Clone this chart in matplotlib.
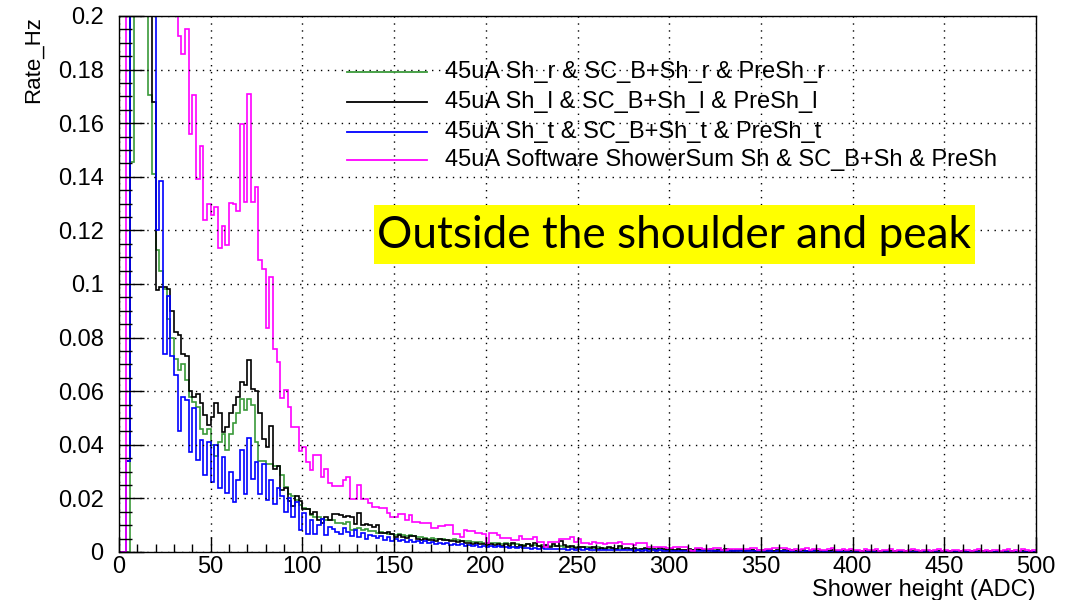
import numpy as np
import matplotlib
matplotlib.use("Agg")
import matplotlib.pyplot as plt
from matplotlib.lines import Line2D
from matplotlib.patches import Rectangle
from matplotlib.ticker import MultipleLocator

# ---------------- data (2-ADC bins from 0 to 500) ----------------
bin_edges = np.arange(0, 502, 2)

labels = [
    "45uA Sh_r & SC_B+Sh_r & PreSh_r",
    "45uA Sh_l & SC_B+Sh_l & PreSh_l",
    "45uA Sh_t & SC_B+Sh_t & PreSh_t",
    "45uA Software ShowerSum Sh & SC_B+Sh & PreSh",
]

rate_sh_r = [
    0, 0, 0, 0.1456, 0.9, 0.7, 0.5, 0.32, 0.1705, 0.141,
    0.1127, 0.105, 0.098, 0.087, 0.080, 0.072, 0.068, 0.070, 0.064, 0.058,
    0.056, 0.054, 0.046, 0.044, 0.046, 0.040, 0.036, 0.041, 0.044, 0.038,
    0.044, 0.048, 0.052, 0.057, 0.053, 0.057, 0.055, 0.041, 0.034, 0.034,
    0.033, 0.033, 0.032, 0.032, 0.0287, 0.0243, 0.0218, 0.021, 0.0194, 0.0175,
    0.0163, 0.016, 0.0138, 0.013, 0.013, 0.0125, 0.0119, 0.0119, 0.012, 0.011,
    0.011, 0.0105, 0.0112, 0.0082, 0.0085, 0.009, 0.0082, 0.0085, 0.008, 0.0078,
    0.0072, 0.0074, 0.0070, 0.0068, 0.0066, 0.0064, 0.0066, 0.0062, 0.0060, 0.0064,
    0.0058, 0.0055, 0.0056, 0.0052, 0.0050, 0.0052, 0.0048, 0.0050, 0.0047, 0.0046,
    0.0045, 0.0047, 0.0044, 0.0042, 0.0040, 0.0042, 0.0038, 0.0036, 0.0038, 0.0035,
    0.0034, 0.0033, 0.0035, 0.0032, 0.0030, 0.0032, 0.0029, 0.0028, 0.0030, 0.0027,
    0.0026, 0.0028, 0.0025, 0.0026, 0.0024, 0.0025, 0.0023, 0.0022, 0.0024, 0.0021,
    0.0022, 0.0020, 0.0021, 0.0019, 0.0020, 0.0018, 0.0019, 0.0017, 0.0018, 0.0016,
    0.0017, 0.0015, 0.0016, 0.0014, 0.0015, 0.0013, 0.0014, 0.0012, 0.0013, 0.0012,
    0.0011, 0.0012, 0.0010, 0.0011, 0.0010, 0.0009, 0.0010, 0.0009, 0.0008, 0.0009,
    0.0008, 0.0009, 0.0007, 0.0008, 0.0007, 0.0008, 0.0006, 0.0007, 0.0008, 0.0006,
    0.0007, 0.0006, 0.0007, 0.0005, 0.0006, 0.0007, 0.0005, 0.0006, 0.0005, 0.0006,
    0.0005, 0.0004, 0.0006, 0.0005, 0.0004, 0.0005, 0.0006, 0.0004, 0.0005, 0.0004,
    0.0005, 0.0004, 0.0003, 0.0005, 0.0004, 0.0003, 0.0004, 0.0005, 0.0003, 0.0004,
    0.0003, 0.0004, 0.0003, 0.0004, 0.0002, 0.0003, 0.0004, 0.0003, 0.0002, 0.0003,
    0.0003, 0.0002, 0.0004, 0.0003, 0.0002, 0.0003, 0.0002, 0.0003, 0.0002, 0.0003,
    0.0002, 0.0003, 0.0002, 0.0002, 0.0003, 0.0002, 0.0001, 0.0002, 0.0003, 0.0002,
    0.0002, 0.0001, 0.0002, 0.0002, 0.0001, 0.0002, 0.0002, 0.0001, 0.0002, 0.0001,
    0.0002, 0.0001, 0.0001, 0.0002, 0.0001, 0.0001, 0.0002, 0.0001, 0.0001, 0.0001,
    0.0001, 0.0001, 0.0002, 0.0001, 0.0001, 0.0001, 0.0001, 0.0001, 0.0001, 0.0001,
]

rate_sh_l = [
    0, 0, 0.034, 1.0, 0.8, 0.6, 0.45, 0.32, 0.24, 0.168,
    0.0977, 0.099, 0.099, 0.098, 0.090, 0.082, 0.081, 0.074, 0.073, 0.060,
    0.058, 0.059, 0.0557, 0.051, 0.0474, 0.0505, 0.0557, 0.0518, 0.0449, 0.0468,
    0.0518, 0.0549, 0.058, 0.0635, 0.0623, 0.0716, 0.061, 0.060, 0.052, 0.042,
    0.039, 0.047, 0.031, 0.032, 0.023, 0.024, 0.019, 0.017, 0.021, 0.019,
    0.016, 0.016, 0.014, 0.015, 0.012, 0.011, 0.013, 0.012, 0.014, 0.014,
    0.0138, 0.013, 0.0135, 0.013, 0.0105, 0.0144, 0.010, 0.0105, 0.010, 0.0095,
    0.010, 0.0072, 0.0072, 0.0075, 0.0068, 0.0057, 0.0062, 0.0057, 0.0052, 0.0058,
    0.006, 0.0048, 0.0045, 0.005, 0.0045, 0.0045, 0.0042, 0.0048, 0.0046, 0.0044,
    0.0040, 0.0042, 0.0036, 0.0040, 0.0032, 0.0035, 0.0030, 0.0034, 0.0028, 0.0030,
    0.0026, 0.0028, 0.0025, 0.0030, 0.0022, 0.0028, 0.0024, 0.0032, 0.0020, 0.0026,
    0.0022, 0.0030, 0.0024, 0.0035, 0.0022, 0.0018, 0.0025, 0.0020, 0.0030, 0.0022,
    0.0040, 0.0025, 0.0018, 0.0022, 0.0016, 0.0020, 0.0018, 0.0012, 0.0015, 0.0020,
    0.0012, 0.0016, 0.0010, 0.0018, 0.0014, 0.0012, 0.0022, 0.0010, 0.0014, 0.0012,
    0.0016, 0.0008, 0.0012, 0.0014, 0.0010, 0.0012, 0.0008, 0.0014, 0.0010, 0.0006,
    0.0010, 0.0008, 0.0012, 0.0006, 0.0008, 0.0010, 0.0006, 0.0012, 0.0008, 0.0006,
    0.0008, 0.0010, 0.0004, 0.0008, 0.0006, 0.0010, 0.0006, 0.0004, 0.0008, 0.0006,
    0.0004, 0.0008, 0.0006, 0.0004, 0.0006, 0.0008, 0.0004, 0.0006, 0.0004, 0.0006,
    0.0004, 0.0006, 0.0002, 0.0006, 0.0004, 0.0004, 0.0006, 0.0002, 0.0004, 0.0006,
    0.0002, 0.0004, 0.0004, 0.0002, 0.0006, 0.0002, 0.0004, 0.0002, 0.0004, 0.0002,
    0.0004, 0.0002, 0.0002, 0.0004, 0.0002, 0.0002, 0.0004, 0.0002, 0.0002, 0.0002,
    0.0004, 0.0002, 0.0002, 0.0002, 0.0004, 0.0002, 0.0002, 0.0000, 0.0002, 0.0002,
    0.0002, 0.0002, 0.0000, 0.0002, 0.0002, 0.0000, 0.0002, 0.0002, 0.0000, 0.0002,
    0.0002, 0.0000, 0.0002, 0.0000, 0.0002, 0.0002, 0.0000, 0.0002, 0.0000, 0.0002,
    0.0000, 0.0002, 0.0000, 0.0002, 0.0000, 0.0000, 0.0002, 0.0000, 0.0002, 0.0000,
]

rate_sh_t = [
    0, 0, 0.034, 1.1, 0.9, 0.7, 0.5, 0.35, 0.26, 0.21,
    0.120, 0.1386, 0.074, 0.0956, 0.073, 0.066, 0.045, 0.058, 0.0567, 0.0375,
    0.0536, 0.0343, 0.0418, 0.0287, 0.0412, 0.026, 0.040, 0.024, 0.0356, 0.022,
    0.030, 0.0188, 0.027, 0.038, 0.0218, 0.0424, 0.0274, 0.0337, 0.0218, 0.033,
    0.0194, 0.027, 0.018, 0.0237, 0.021, 0.015, 0.020, 0.013, 0.0187, 0.0082,
    0.0144, 0.0069, 0.012, 0.0069, 0.010, 0.0125, 0.0063, 0.0095, 0.0085, 0.0075,
    0.0066, 0.009, 0.0075, 0.0060, 0.0082, 0.0055, 0.0072, 0.0050, 0.0065, 0.0058,
    0.0052, 0.0060, 0.0045, 0.0055, 0.0042, 0.0050, 0.0040, 0.0046, 0.0038, 0.0044,
    0.0036, 0.0042, 0.0034, 0.0040, 0.0032, 0.0036, 0.0030, 0.0034, 0.0028, 0.0032,
    0.0027, 0.0030, 0.0026, 0.0028, 0.0024, 0.0027, 0.0022, 0.0025, 0.0020, 0.0024,
    0.0020, 0.0022, 0.0018, 0.0021, 0.0017, 0.0019, 0.0016, 0.0018, 0.0015, 0.0017,
    0.0014, 0.0016, 0.0013, 0.0015, 0.0012, 0.0014, 0.0011, 0.0013, 0.0010, 0.0012,
    0.0010, 0.0012, 0.0009, 0.0011, 0.0009, 0.0010, 0.0008, 0.0010, 0.0008, 0.0009,
    0.0007, 0.0009, 0.0007, 0.0008, 0.0006, 0.0008, 0.0006, 0.0007, 0.0006, 0.0007,
    0.0005, 0.0007, 0.0005, 0.0006, 0.0005, 0.0006, 0.0004, 0.0006, 0.0004, 0.0005,
    0.0004, 0.0005, 0.0004, 0.0005, 0.0003, 0.0005, 0.0003, 0.0004, 0.0003, 0.0004,
    0.0003, 0.0004, 0.0003, 0.0004, 0.0002, 0.0004, 0.0002, 0.0003, 0.0002, 0.0003,
    0.0002, 0.0003, 0.0002, 0.0003, 0.0002, 0.0003, 0.0002, 0.0002, 0.0001, 0.0002,
    0.0002, 0.0002, 0.0001, 0.0002, 0.0001, 0.0002, 0.0001, 0.0002, 0.0001, 0.0002,
    0.0001, 0.0001, 0.0002, 0.0001, 0.0001, 0.0001, 0.0002, 0.0001, 0.0001, 0.0001,
    0.0001, 0.0001, 0.0001, 0.0001, 0.0001, 0.0001, 0.0001, 0.0001, 0.0001, 0.0001,
    0.0001, 0.0000, 0.0001, 0.0001, 0.0000, 0.0001, 0.0001, 0.0000, 0.0001, 0.0000,
    0.0001, 0.0000, 0.0001, 0.0000, 0.0001, 0.0000, 0.0000, 0.0001, 0.0000, 0.0000,
    0.0001, 0.0000, 0.0000, 0.0001, 0.0000, 0.0000, 0.0001, 0.0000, 0.0000, 0.0000,
    0.0000, 0.0001, 0.0000, 0.0000, 0.0000, 0.0001, 0.0000, 0.0000, 0.0000, 0.0000,
]

rate_sum = [
    0, 0, 1.2, 1.5, 1.3, 1.0, 0.8, 0.65, 0.55, 0.45,
    0.38, 0.33, 0.29, 0.26, 0.23, 0.21, 0.1925, 0.186, 0.195, 0.156,
    0.1705, 0.139, 0.1516, 0.124, 0.130, 0.1257, 0.1286, 0.1135, 0.1216, 0.1146,
    0.1301, 0.1299, 0.1274, 0.1597, 0.1305, 0.1708, 0.1305, 0.1363, 0.109, 0.1056,
    0.0837, 0.1027, 0.0756, 0.071, 0.0573, 0.0604, 0.0542, 0.0468, 0.0468, 0.0378,
    0.0393, 0.0335, 0.0306, 0.0362, 0.0362, 0.0281, 0.031, 0.0259, 0.0247, 0.0247,
    0.0247, 0.0269, 0.0279, 0.0198, 0.0198, 0.025, 0.0198, 0.0198, 0.0182, 0.0169,
    0.0169, 0.0163, 0.0163, 0.0147, 0.0132, 0.0132, 0.0142, 0.0142, 0.0119, 0.0138,
    0.0113, 0.0113, 0.0107, 0.0107, 0.0107, 0.0088, 0.0088, 0.0098, 0.0098, 0.0101,
    0.0101, 0.0067, 0.0067, 0.0057, 0.0082, 0.0080, 0.0080, 0.0072, 0.0072, 0.0066,
    0.0032, 0.0070, 0.0070, 0.0063, 0.0051, 0.0051, 0.0051, 0.0045, 0.0045, 0.0060,
    0.0047, 0.0047, 0.0047, 0.0057, 0.0036, 0.0036, 0.0020, 0.0038, 0.0038, 0.0038,
    0.0047, 0.0047, 0.0047, 0.0055, 0.0038, 0.0047, 0.0032, 0.0034, 0.0031, 0.0036,
    0.0033, 0.0034, 0.0030, 0.0035, 0.0033, 0.0034, 0.0038, 0.0029, 0.0029, 0.0029,
    0.0025, 0.0032, 0.0032, 0.0032, 0.0020, 0.0020, 0.0020, 0.0020, 0.0020, 0.0016,
    0.0016, 0.0018, 0.0018, 0.0018, 0.0018, 0.0007, 0.0004, 0.0015, 0.0015, 0.0012,
    0.0012, 0.0012, 0.0016, 0.0016, 0.0006, 0.0006, 0.0012, 0.0012, 0.0012, 0.0012,
    0.0012, 0.0012, 0.0015, 0.0015, 0.0008, 0.0008, 0.0012, 0.0012, 0.0015, 0.0015,
    0.0015, 0.0015, 0.0010, 0.0008, 0.0012, 0.0006, 0.0010, 0.0014, 0.0008, 0.0010,
    0.0012, 0.0006, 0.0008, 0.0010, 0.0016, 0.0008, 0.0006, 0.0010, 0.0008, 0.0012,
    0.0006, 0.0008, 0.0004, 0.0010, 0.0008, 0.0006, 0.0012, 0.0004, 0.0008, 0.0006,
    0.0010, 0.0004, 0.0006, 0.0008, 0.0004, 0.0006, 0.0010, 0.0006, 0.0004, 0.0008,
    0.0006, 0.0004, 0.0008, 0.0012, 0.0004, 0.0006, 0.0004, 0.0008, 0.0006, 0.0004,
    0.0006, 0.0008, 0.0004, 0.0006, 0.0010, 0.0004, 0.0006, 0.0004, 0.0008, 0.0006,
    0.0004, 0.0006, 0.0010, 0.0004, 0.0006, 0.0004, 0.0012, 0.0006, 0.0004, 0.0006,
]

series = [rate_sh_r, rate_sh_l, rate_sh_t, rate_sum]
colors = ["#3a9a3a", "#000000", "#0000ff", "#ff00ff"]

# ---------------- figure ----------------
W, H = 1084, 600
fig = plt.figure(figsize=(W / 100, H / 100), dpi=100)
ax = fig.add_axes([119 / W, 1 - 552 / H, (1036 - 119) / W, (552 - 16) / H])

for vals, col in zip(series, colors):
    ax.stairs(vals, bin_edges, color=col, lw=1.2, baseline=0)

ax.set_xlim(0, 500)
ax.set_ylim(0, 0.2)

ax.xaxis.set_major_locator(MultipleLocator(50))
ax.xaxis.set_minor_locator(MultipleLocator(10))
ax.yaxis.set_major_locator(MultipleLocator(0.02))
ax.yaxis.set_minor_locator(MultipleLocator(0.005))
ax.set_yticks(np.arange(0, 0.2001, 0.02))
ax.set_yticklabels(["0", "0.02", "0.04", "0.06", "0.08", "0.1", "0.12",
                    "0.14", "0.16", "0.18", "0.2"])

font = "Liberation Sans"
ax.tick_params(axis="x", which="major", direction="in", length=11, width=1,
               labelsize=17, pad=3, top=False)
ax.tick_params(axis="x", which="minor", direction="in", length=5.5, width=1,
               top=False)
ax.tick_params(axis="y", which="major", direction="in", length=18, width=1,
               labelsize=17, pad=11, right=False)
ax.tick_params(axis="y", which="minor", direction="in", length=9, width=1,
               right=False)
for lab in ax.get_xticklabels() + ax.get_yticklabels():
    lab.set_fontfamily(font)

ax.grid(True, which="major", color="black", linestyle=(0, (1, 4)), lw=1.0)
ax.set_axisbelow(False)
for sp in ax.spines.values():
    sp.set_linewidth(1.0)

fig.text(1036 / W, 1 - 590 / H, "Shower height (ADC)", ha="right", va="center",
         fontsize=17, family=font)
fig.text(33 / W, 1 - 16 / H, "Rate_Hz", ha="center", va="top", rotation=90,
         fontsize=16, family=font)

# legend (manual placement)
rows_y = [72, 102, 132, 160]
for lab, col, yy in zip(labels, colors, rows_y):
    fig.add_artist(Line2D([347 / W, 427 / W], [1 - yy / H, 1 - yy / H],
                          color=col, lw=1.3, transform=fig.transFigure))
    fig.text(445 / W, 1 - yy / H, lab, ha="left", va="center",
             fontsize=17, family=font)

# yellow annotation box
fig.add_artist(Rectangle((374 / W, 1 - 264 / H), (975 - 374) / W, (264 - 205) / H,
                         transform=fig.transFigure, facecolor="#ffff00",
                         edgecolor="none", zorder=5))
fig.text(674 / W, 1 - 236 / H, "Outside the shoulder and peak", ha="center",
         va="center", fontsize=31.8, family="Lato", zorder=6)

fig.savefig("out.png", dpi=100)
